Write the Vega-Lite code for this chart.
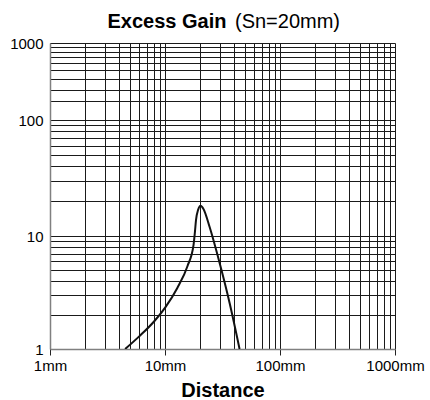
{
  "$schema": "https://vega.github.io/schema/vega-lite/v6.json",
  "width": 345,
  "height": 306,
  "autosize": {"type": "none"},
  "padding": {"left": 50, "top": 43, "right": 35, "bottom": 51},
  "background": "white",
  "config": {"view": {"stroke": null}, "font": "Liberation Sans"},
  "data": {
    "values": [
      {"d": 4.5, "g": 1.0},
      {"d": 6.0, "g": 1.30},
      {"d": 8.1, "g": 1.77},
      {"d": 10.1, "g": 2.35},
      {"d": 12.8, "g": 3.47},
      {"d": 15.7, "g": 5.43},
      {"d": 17.7, "g": 8.3},
      {"d": 18.2, "g": 10.8},
      {"d": 18.6, "g": 13.7},
      {"d": 19.4, "g": 16.8},
      {"d": 20.4, "g": 18.2},
      {"d": 21.6, "g": 17.1},
      {"d": 24.4, "g": 12.0},
      {"d": 29.9, "g": 5.73},
      {"d": 36.5, "g": 2.54},
      {"d": 44.5, "g": 1.0}
    ]
  },
  "layer": [
    {
      "mark": {"type": "line", "color": "#111111", "strokeWidth": 2, "interpolate": "monotone", "clip": true},
      "encoding": {
        "x": {
          "field": "d", "type": "quantitative",
          "scale": {"type": "log", "domain": [1, 1000], "nice": false},
          "axis": {
            "orient": "bottom",
            "tickCount": 10,
            "grid": true, "gridColor": "#1a1a1a", "gridWidth": 1, "gridOpacity": 1,
            "labelExpr": "abs(log(datum.value)/LN10 - round(log(datum.value)/LN10)) < 1e-6 ? datum.value + 'mm' : ''",
            "labelFlush": false, "labelOverlap": false,
            "labelFontSize": 15, "labelColor": "#000000", "labelPadding": 3,
            "tickSize": 6, "tickColor": "#222222", "tickWidth": 1,
            "tickOpacity": {"condition": {"test": "abs(log(datum.value)/LN10 - round(log(datum.value)/LN10)) < 1e-6", "value": 1}, "value": 0},
            "domainColor": "#808080", "domainWidth": 1.5,
            "title": "Distance", "titleFontSize": 20, "titleFontWeight": "bold", "titleColor": "#000000",
            "titleBaseline": "alphabetic", "titleY": 47, "titleX": 172.5, "titleAlign": "center"
          }
        },
        "y": {
          "field": "g", "type": "quantitative",
          "scale": {"type": "log", "domain": [1, 10, 100, 300, 1000], "range": [306, 193, 77, 47, 0], "nice": false},
          "axis": {
            "orient": "left",
            "tickCount": 10,
            "grid": true, "gridColor": "#1a1a1a", "gridWidth": 1, "gridOpacity": 1,
            "labelExpr": "abs(log(datum.value)/LN10 - round(log(datum.value)/LN10)) < 1e-6 ? datum.value + '' : ''",
            "labelFlush": false, "labelOverlap": false,
            "labelFontSize": 15, "labelColor": "#000000", "labelPadding": 7,
            "ticks": false,
            "domainColor": "#808080", "domainWidth": 1.5,
            "title": "(Sn=20mm)", "titleAngle": 0, "titleFontSize": 20, "titleFontWeight": "normal", "titleColor": "#000000",
            "titleX": 237, "titleY": -16, "titleAlign": "center", "titleBaseline": "alphabetic"
          }
        }
      }
    },
    {
      "mark": {"type": "rule", "opacity": 0},
      "encoding": {
        "x": {
          "field": "d", "type": "quantitative",
          "scale": {"type": "log", "domain": [1, 1000], "nice": false},
          "axis": {
            "orient": "top",
            "labels": false, "ticks": false, "domain": false, "grid": false,
            "title": "Excess Gain", "titleFontSize": 20, "titleFontWeight": "bold", "titleColor": "#000000",
            "titleX": 116.5, "titleY": -16, "titleAlign": "center", "titleBaseline": "alphabetic"
          }
        }
      }
    }
  ],
  "resolve": {"axis": {"x": "independent"}}
}
